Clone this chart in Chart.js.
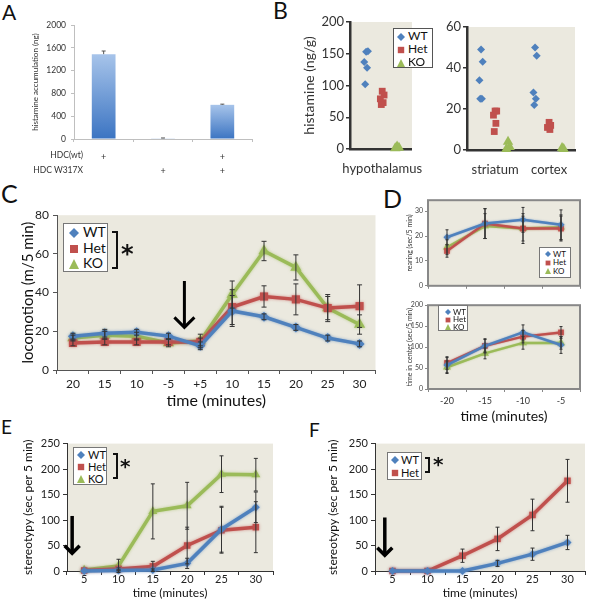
<!DOCTYPE html>
<html>
<head>
<meta charset="utf-8">
<title>Histamine figure</title>
<script src="https://cdn.jsdelivr.net/npm/chart.js"></script>
<style>
  html, body { margin: 0; padding: 0; background: #fff; }
  body { position: relative; width: 593px; height: 600px; overflow: hidden; font-family: Lato, sans-serif; color: #111; }
  canvas { position: absolute; }
  .t { position: absolute; white-space: nowrap; line-height: 1; }
  .leg { position: absolute; background: #fff; border: 1px solid #777; box-sizing: border-box; }
  .leg div { position: absolute; white-space: nowrap; line-height: 1; }
  .leg svg { position: absolute; }
  .brk { position: absolute; border: 2px solid #111; border-left: none; box-sizing: border-box; }
</style>
</head>
<body>
<script>
// ---- data ----
// A: histamine accumulation
const hdcWt = ['+', '', '+'];
const hdcMut = ['', '+', '+'];
const aValues = [1490, 12, 600];
const aErr = [55, 6, 12];

// B: tissue histamine, one value per animal
const bRegions1 = ['hypothalamus'];
const bRegions2 = ['striatum', 'cortex'];
const bHypoWT = [153, 154, 137, 128, 102];
const bHypoHet = [91, 85, 79, 73, 70];
const bHypoKO = [4, 2, 1];
const bStrWT = [49, 43, 34, 25, 25];
const bStrHet = [19, 19, 17, 13, 9];
const bStrKO = [4, 1.5, 0.5];
const bCtxWT = [50, 46, 28, 25, 22];
const bCtxHet = [13.5, 12, 11, 10];
const bCtxKO = [1, 0.5];

// C: locomotion
const cTimes = ['20', '15', '10', '-5', '+5', '10', '15', '20', '25', '30'];
const cWT = [17.5, 19, 19.5, 17.5, 12.5, 30.5, 27.5, 22, 16.5, 13.5];
const cHet = [14, 14.5, 14.5, 14.5, 14.5, 32.5, 38, 36.5, 32, 33];
const cKO = [16.5, 18, 17.5, 14, 15, 39, 61.5, 53, 32, 23.5];
const cWTErr = [1.5, 2, 1.5, 1.5, 2, 8, 1.5, 1.5, 1.5, 1.5];
const cHetErr = [1.5, 1.5, 1.5, 1.5, 2, 9, 5.5, 8, 7, 11];
const cKOErr = [1.5, 2, 2, 2, 3.5, 7, 5, 6.5, 6, 5];

// D: rearing and time in center
const dTimes = ['-20', '-15', '-10', '-5'];
const dRearWT = [19.5, 25, 26.5, 24.5];
const dRearHet = [14, 25, 23, 23];
const dRearKO = [15.5, 24, 23, 23.5];
const dRearWTErr = [3, 6, 5, 6];
const dRearHetErr = [2.5, 6, 6, 5];
const dRearKOErr = [3, 5, 5, 5];
const dCenWT = [57, 103, 135, 105];
const dCenHet = [62, 103, 125, 135];
const dCenKO = [52, 85, 110, 110];
const dCenWTErr = [18, 15, 18, 20];
const dCenHetErr = [15, 17, 15, 14];
const dCenKOErr = [15, 13, 15, 15];

// E: stereotypy, three genotypes
const eTimes = ['5', '10', '15', '20', '25', '30'];
const eWT = [0, 1, 2, 15, 82, 125];
const eHet = [1, 4, 9, 50, 80, 86];
const eKO = [2, 10, 117, 128, 190, 189];
const eWTErr = [0, 1, 2, 10, 45, 30];
const eHetErr = [0, 2, 10, 36, 45, 50];
const eKOErr = [0, 13, 54, 46, 36, 32];

// F: stereotypy, WT vs Het
const fTimes = ['5', '10', '15', '20', '25', '30'];
const fWT = [0, 0, 0, 15, 33, 56];
const fHet = [0, 0, 30, 63, 110, 177];
const fWTErr = [0, 0, 0, 6, 12, 14];
const fHetErr = [0, 0, 13, 23, 31, 42];

// ---- look ----
const look = {
  WT: { color: '#4f81bd', style: 'rectRot' },
  Het: { color: '#c0504d', style: 'rect' },
  KO: { color: '#9bbb59', style: 'triangle' }
};
const BGC = '#ebe9df';

Chart.defaults.font.family = 'Lato, sans-serif';
Chart.defaults.color = '#222';
Chart.defaults.plugins.legend.display = false;
Chart.defaults.plugins.tooltip.enabled = false;

// ---- plugins ----
const bgPlugin = {
  id: 'bg',
  beforeDraw(chart, args, o) {
    if (!o.color) return;
    const a = chart.chartArea, ctx = chart.ctx;
    ctx.save();
    ctx.fillStyle = o.color;
    ctx.fillRect(a.left, a.top, a.right - a.left, a.bottom - a.top);
    ctx.restore();
  },
  afterDraw(chart, args, o) {
    if (!o.frame) return;
    const a = chart.chartArea, ctx = chart.ctx;
    ctx.save();
    ctx.strokeStyle = o.frame;
    ctx.lineWidth = 2;
    ctx.strokeRect(a.left, a.top, a.right - a.left, a.bottom - a.top);
    ctx.restore();
  }
};

const errPlugin = {
  id: 'errbars',
  afterDatasetsDraw(chart, args, o) {
    if (!o.sets) return;
    const ctx = chart.ctx, y = chart.scales.y;
    const c = o.cap || 2.5;
    ctx.save();
    ctx.strokeStyle = o.color || '#333';
    ctx.lineWidth = o.width || 1;
    o.sets.forEach((errs, i) => {
      if (!errs) return;
      const ds = chart.data.datasets[i];
      chart.getDatasetMeta(i).data.forEach((el, j) => {
        const e = errs[j];
        if (!e) return;
        const raw = ds.data[j];
        const v = typeof raw === 'object' ? raw.y : raw;
        const x = el.x;
        const y1 = y.getPixelForValue(v + e);
        const y2 = o.upOnly ? y.getPixelForValue(v) : y.getPixelForValue(v - e);
        ctx.beginPath();
        ctx.moveTo(x, y1); ctx.lineTo(x, y2);
        ctx.moveTo(x - c, y1); ctx.lineTo(x + c, y1);
        if (!o.upOnly) { ctx.moveTo(x - c, y2); ctx.lineTo(x + c, y2); }
        ctx.stroke();
      });
    });
    ctx.restore();
  }
};

const arrowPlugin = {
  id: 'arrow',
  afterDraw(chart, args, o) {
    if (o.x === undefined) return;
    const ctx = chart.ctx, xs = chart.scales.x, ys = chart.scales.y;
    const px = xs.getPixelForValue(o.x);
    const y0 = ys.getPixelForValue(o.y0), y1 = ys.getPixelForValue(o.y1);
    ctx.save();
    ctx.strokeStyle = '#000';
    ctx.lineWidth = o.w || 3;
    ctx.beginPath();
    ctx.moveTo(px, y0); ctx.lineTo(px, y1 - 2);
    ctx.stroke();
    ctx.beginPath();
    ctx.moveTo(px - o.head, y1 - o.head);
    ctx.lineTo(px, y1);
    ctx.lineTo(px + o.head, y1 - o.head);
    ctx.stroke();
    ctx.restore();
  }
};

const glowPlugin = {
  id: 'glow',
  beforeDatasetDraw(chart, args, o) {
    if (!o.blur) return;
    const ctx = chart.ctx;
    ctx.save();
    ctx.shadowColor = chart.data.datasets[args.index].borderColor + '99';
    ctx.shadowBlur = o.blur;
  },
  afterDatasetDraw(chart, args, o) {
    if (!o.blur) return;
    chart.ctx.restore();
  }
};

Chart.register(bgPlugin, errPlugin, arrowPlugin, glowPlugin);

// ---- helpers ----
function mk(area, ext, cfg) {
  const c = document.createElement('canvas');
  const L = area.l - ext.l, T = area.t - ext.t;
  const W = area.r - area.l + ext.l + ext.r, H = area.b - area.t + ext.t + ext.b;
  c.width = W; c.height = H;
  Object.assign(c.style, { left: L + 'px', top: T + 'px', width: W + 'px', height: H + 'px' });
  document.body.appendChild(c);
  const o = cfg.options;
  o.responsive = false;
  o.animation = false;
  o.devicePixelRatio = 1;
  o.layout = { padding: { left: 0, top: ext.t, right: ext.r, bottom: 0 } };
  o.scales.x.afterFit = s => { s.height = ext.b; };
  o.scales.y.afterFit = s => { s.width = ext.l; };
  return new Chart(c, cfg);
}

function lineSet(name, data, r, bw) {
  const s = look[name];
  const k = s.style === 'rect' ? 1.15 : s.style === 'triangle' ? 1.3 : 1;
  return {
    label: name, data,
    borderColor: s.color, backgroundColor: s.color,
    pointStyle: s.style, pointRadius: r * k, pointBorderWidth: 0,
    borderWidth: bw, tension: 0, clip: false
  };
}

const jit = [0, 0.03, -0.03, 0.015, -0.015, 0.045];
function pts(vals, c, off) {
  return vals.map((v, i) => ({ x: c + off + jit[i % jit.length], y: v }));
}
const bOff = { WT: 0.26, Het: 0.52, KO: 0.76 };
function dotSet(name, data, r) {
  const s = look[name];
  const k = s.style === 'rect' ? 1.2 : s.style === 'triangle' ? 1.5 : 1;
  return {
    label: name, data, backgroundColor: s.color, borderColor: s.color,
    pointStyle: s.style, pointRadius: r * k, pointBorderWidth: 0, clip: false
  };
}

function txt(s, left, top, size, extra) {
  const d = document.createElement('div');
  d.className = 't';
  d.textContent = s;
  d.style.left = left + 'px';
  d.style.top = top + 'px';
  d.style.fontSize = size + 'px';
  if (extra) Object.assign(d.style, extra);
  document.body.appendChild(d);
  return d;
}

function markerSvg(style, color, s, cx, cy) {
  let shape;
  if (style === 'rectRot') shape = `<polygon points="${s/2},0 ${s},${s/2} ${s/2},${s} 0,${s/2}" fill="${color}"/>`;
  else if (style === 'rect') shape = `<rect x="${s*0.1}" y="${s*0.1}" width="${s*0.8}" height="${s*0.8}" fill="${color}"/>`;
  else shape = `<polygon points="${s/2},0 ${s},${s} 0,${s}" fill="${color}"/>`;
  return `<svg width="${s}" height="${s}" style="left:${cx - s/2}px;top:${cy - s/2}px">${shape}</svg>`;
}

function legend(l, t, w, h, names, o) {
  const box = document.createElement('div');
  box.className = 'leg';
  Object.assign(box.style, { left: l + 'px', top: t + 'px', width: w + 'px', height: h + 'px', fontSize: o.fs + 'px' });
  if (o.border) box.style.border = o.border;
  let html = '';
  names.forEach((n, i) => {
    const cy = o.y0 + i * o.dy;
    html += markerSvg(look[n].style, look[n].color, o.ms, o.mx, cy);
    html += `<div style="left:${o.tx}px;top:${cy - o.fs * 0.55}px">${n}</div>`;
  });
  box.innerHTML = html;
  document.body.appendChild(box);
}

function bracket(l, t, w, h) {
  const d = document.createElement('div');
  d.className = 'brk';
  Object.assign(d.style, { left: l + 'px', top: t + 'px', width: w + 'px', height: h + 'px' });
  document.body.appendChild(d);
}

// ---- panel letters ----
function letter(s, x, capTop, size) { txt(s, x, capTop - 0.17 * size, size); }
letter('A', 2, 5, 21);
letter('B', 273, 3, 23);
letter('C', 1, 185, 25);
letter('D', 383, 190, 25);
letter('E', 1, 420, 19);
letter('F', 309, 423, 19);

// ---- A ----
mk({ l: 74, t: 25, r: 252, b: 139 }, { l: 54, t: 10, r: 6, b: 40 }, {
  type: 'bar',
  data: {
    labels: hdcWt.map((w, i) => [w, hdcMut[i]]),
    datasets: [{
      data: aValues,
      barPercentage: 0.4, categoryPercentage: 1,
      backgroundColor: c => {
        const ch = c.chart, a = ch.chartArea, ys = ch.scales.y;
        if (!a || !ys) return '#5b8fd3';
        const top = ys.getPixelForValue(aValues[c.dataIndex]);
        const g = ch.ctx.createLinearGradient(0, top, 0, a.bottom);
        g.addColorStop(0, '#a7c4ea');
        g.addColorStop(1, '#3b74c2');
        return g;
      }
    }]
  },
  options: {
    scales: {
      x: {
        offset: true,
        grid: { offset: true, drawOnChartArea: false, tickLength: 3, color: '#bfbfbf' },
        border: { color: '#bfbfbf' },
        ticks: { font: { size: 9, lineHeight: 1.55 }, color: '#333', padding: 8, maxRotation: 0, autoSkip: false }
      },
      y: {
        min: 0, max: 2000,
        ticks: { stepSize: 400, font: { size: 8.5 }, color: '#333', padding: 5, callback: v => String(v) },
        grid: { drawOnChartArea: false, tickLength: 3, color: '#bfbfbf' },
        border: { color: '#bfbfbf' },
        title: { display: true, text: 'histamine accumulation (ng)', font: { size: 8 }, color: '#333', padding: { top: 11, bottom: 0 } }
      }
    },
    plugins: { errbars: { sets: [aErr], upOnly: true, cap: 2, color: '#555' } }
  }
});
txt('HDC(wt)', 0, 156 - 0.53 * 8.5, 8.5, { left: 'auto', right: (593 - 83) + 'px', color: '#333' });
txt('HDC W317X', 0, 171 - 0.53 * 8.5, 8.5, { left: 'auto', right: (593 - 83) + 'px', color: '#333' });

// ---- B ----
const bAxisY = (max, step) => ({
  min: 0, max,
  ticks: { stepSize: step, font: { size: 13 }, color: '#333', padding: 2 },
  grid: { drawOnChartArea: false, tickLength: 4, color: '#333', lineWidth: 1.5 },
  border: { color: '#333', width: 2.5 }
});
const bAxisX = (max, names) => ({
  type: 'linear', min: 0, max,
  afterBuildTicks: s => { s.ticks = names.map((n, i) => ({ value: i + 0.52 })); },
  ticks: { callback: (v, i) => names[i], font: { size: 13 }, color: '#333', padding: 12, maxRotation: 0 },
  grid: { display: false, drawTicks: false },
  border: { color: '#333', width: 2.5 }
});
const b1y = bAxisY(200, 50);
b1y.title = { display: true, text: 'histamine (ng/g)', font: { size: 14 }, color: '#333', padding: { top: 3, bottom: 0 } };
mk({ l: 350, t: 22, r: 435, b: 149 }, { l: 52, t: 10, r: 2, b: 34 }, {
  type: 'scatter',
  data: { datasets: [
    dotSet('WT', pts(bHypoWT, 0, bOff.WT), 4),
    dotSet('Het', pts(bHypoHet, 0, bOff.Het), 4),
    dotSet('KO', pts(bHypoKO, 0, bOff.KO), 4)
  ] },
  options: { scales: { x: bAxisX(1, bRegions1), y: b1y }, plugins: { bg: { color: BGC } } }
});
mk({ l: 467, t: 27, r: 575, b: 150 }, { l: 30, t: 10, r: 8, b: 33 }, {
  type: 'scatter',
  data: { datasets: [
    dotSet('WT', pts(bStrWT, 0, bOff.WT).concat(pts(bCtxWT, 1, bOff.WT)), 4),
    dotSet('Het', pts(bStrHet, 0, bOff.Het).concat(pts(bCtxHet, 1, bOff.Het)), 4),
    dotSet('KO', pts(bStrKO, 0, bOff.KO).concat(pts(bCtxKO, 1, bOff.KO)), 4)
  ] },
  options: { scales: { x: bAxisX(2, bRegions2), y: bAxisY(60, 20) }, plugins: { bg: { color: BGC } } }
});
legend(393, 28, 40, 40, ['WT', 'Het', 'KO'], { fs: 12, ms: 8, mx: 7, tx: 14, y0: 8, dy: 13, border: '1px solid #555' });

// ---- C ----
mk({ l: 57, t: 212, r: 376, b: 370 }, { l: 45, t: 8, r: 6, b: 42 }, {
  type: 'line',
  data: { labels: cTimes, datasets: [lineSet('WT', cWT, 5, 3.5), lineSet('Het', cHet, 5, 3.5), lineSet('KO', cKO, 5, 3.5)] },
  options: {
    scales: {
      x: {
        type: 'category', offset: true,
        grid: { offset: true, drawOnChartArea: false, tickLength: 4, color: '#555' },
        border: { color: '#555' },
        ticks: { font: { size: 12 }, color: '#222', padding: 3, autoSkip: false, maxRotation: 0 },
        title: { display: true, text: 'time (minutes)', font: { size: 16 }, color: '#111', padding: { top: 0, bottom: 2 } }
      },
      y: {
        min: 0, max: 80,
        ticks: { stepSize: 20, font: { size: 12 }, color: '#222', padding: 4 },
        grid: { drawOnChartArea: false, tickLength: 4, color: '#555' },
        border: { color: '#555' },
        title: { display: true, text: 'locomotion (m/5 min)', font: { size: 15 }, color: '#111', padding: { top: 7, bottom: 0 } }
      }
    },
    plugins: {
      bg: { color: BGC },
      errbars: { sets: [cWTErr, cHetErr, cKOErr], cap: 2.5 },
      arrow: { x: 3.5, y0: 46, y1: 22, head: 10, w: 3 },
      glow: { blur: 3 }
    }
  }
});
legend(63, 223, 45, 49, ['WT', 'Het', 'KO'], { fs: 14, ms: 10, mx: 10, tx: 19, y0: 9, dy: 15.5 });
bracket(112, 231, 6, 38);
txt('*', 121, 242, 24, { fontFamily: 'DejaVu Sans', fontWeight: 'bold' });

// ---- D ----
const dX = show => ({
  type: 'category', offset: true,
  grid: { offset: true, drawOnChartArea: false, tickLength: 3, color: '#888' },
  border: { display: false },
  ticks: { display: show, font: { size: 9 }, color: '#333', padding: 4, autoSkip: false, maxRotation: 0 }
});
const dY = (max, step, title) => ({
  min: 0, max,
  afterBuildTicks: s => { s.ticks = s.ticks.filter(t => t.value % step === 0); },
  ticks: { stepSize: step, font: { size: 7 }, color: '#444', padding: 2 },
  grid: { drawOnChartArea: false, tickLength: 3, color: '#888' },
  border: { display: false },
  title: { display: true, text: title, font: { size: 7 }, color: '#333', padding: { top: 4, bottom: 0 } }
});
mk({ l: 428, t: 200, r: 580, b: 286 }, { l: 26, t: 6, r: 6, b: 6 }, {
  type: 'line',
  data: { labels: dTimes, datasets: [lineSet('WT', dRearWT, 3.5, 2.5), lineSet('Het', dRearHet, 3.5, 2.5), lineSet('KO', dRearKO, 3.5, 2.5)] },
  options: {
    scales: { x: dX(false), y: dY(34.4, 10, 'rearing (sec/5 min)') },
    plugins: { bg: { color: BGC, frame: '#888' }, errbars: { sets: [dRearWTErr, dRearHetErr, dRearKOErr], cap: 1.5 }, glow: { blur: 2 } }
  }
});
const d2x = dX(true);
d2x.title = { display: true, text: 'time (minutes)', font: { size: 14 }, color: '#111', padding: { top: 0, bottom: 1 } };
mk({ l: 428, t: 305, r: 580, b: 389 }, { l: 26, t: 6, r: 6, b: 37 }, {
  type: 'line',
  data: { labels: dTimes, datasets: [lineSet('WT', dCenWT, 3.5, 2.5), lineSet('Het', dCenHet, 3.5, 2.5), lineSet('KO', dCenKO, 3.5, 2.5)] },
  options: {
    scales: { x: d2x, y: dY(200, 50, 'time in center (sec/5 min)') },
    plugins: { bg: { color: BGC, frame: '#888' }, errbars: { sets: [dCenWTErr, dCenHetErr, dCenKOErr], cap: 1.5 }, glow: { blur: 2 } }
  }
});
legend(539, 247, 32, 31, ['WT', 'Het', 'KO'], { fs: 8, ms: 6, mx: 8, tx: 13, y0: 6, dy: 8.5 });
legend(438, 305, 30, 26, ['WT', 'Het', 'KO'], { fs: 8, ms: 6, mx: 9, tx: 14, y0: 6, dy: 7.5 });

// ---- E / F ----
const efX = () => ({
  type: 'category', offset: true,
  grid: { offset: true, drawOnChartArea: false, tickLength: 4, color: '#333' },
  border: { color: '#333' },
  ticks: { font: { size: 11 }, color: '#222', padding: -2, autoSkip: false, maxRotation: 0 },
  title: { display: true, text: 'time (minutes)', font: { size: 12 }, color: '#111', padding: { top: 0, bottom: 0 } }
});
const efY = pad => ({
  min: 0, max: 250,
  ticks: { stepSize: 50, font: { size: 11 }, color: '#222', padding: 3 },
  grid: { drawOnChartArea: false, tickLength: 4, color: '#333' },
  border: { color: '#333' },
  title: { display: true, text: 'stereotypy (sec per 5 min)', font: { size: 12 }, color: '#111', padding: { top: pad, bottom: 0 } }
});
mk({ l: 67, t: 442, r: 273, b: 571 }, { l: 55, t: 8, r: 6, b: 29 }, {
  type: 'line',
  data: { labels: eTimes, datasets: [lineSet('WT', eWT, 4, 3.5), lineSet('Het', eHet, 4, 3.5), lineSet('KO', eKO, 4, 3.5)] },
  options: {
    scales: { x: efX(), y: efY(9) },
    plugins: {
      bg: { color: BGC },
      errbars: { sets: [eWTErr, eHetErr, eKOErr], cap: 2 },
      arrow: { x: -0.35, y0: 108, y1: 35, head: 7.5, w: 3.5 },
      glow: { blur: 3 }
    }
  }
});
legend(73, 447, 34, 38, ['WT', 'Het', 'KO'], { fs: 11, ms: 8, mx: 7, tx: 14, y0: 7, dy: 12 });
bracket(113, 453, 5, 26);
txt('*', 120, 456, 20, { fontFamily: 'DejaVu Sans', fontWeight: 'bold' });

mk({ l: 375, t: 442, r: 585, b: 571 }, { l: 55, t: 8, r: 5, b: 29 }, {
  type: 'line',
  data: { labels: fTimes, datasets: [lineSet('WT', fWT, 4, 3.5), lineSet('Het', fHet, 4, 3.5)] },
  options: {
    scales: { x: efX(), y: efY(6) },
    plugins: {
      bg: { color: BGC },
      errbars: { sets: [fWTErr, fHetErr], cap: 2 },
      arrow: { x: -0.22, y0: 105, y1: 31, head: 7.5, w: 3.5 },
      glow: { blur: 3 }
    }
  }
});
legend(387, 452, 35, 28, ['WT', 'Het'], { fs: 11, ms: 8, mx: 7, tx: 13, y0: 7, dy: 13 });
bracket(425, 457, 5, 16);
txt('*', 433, 454, 20, { fontFamily: 'DejaVu Sans', fontWeight: 'bold' });
</script>
</body>
</html>
